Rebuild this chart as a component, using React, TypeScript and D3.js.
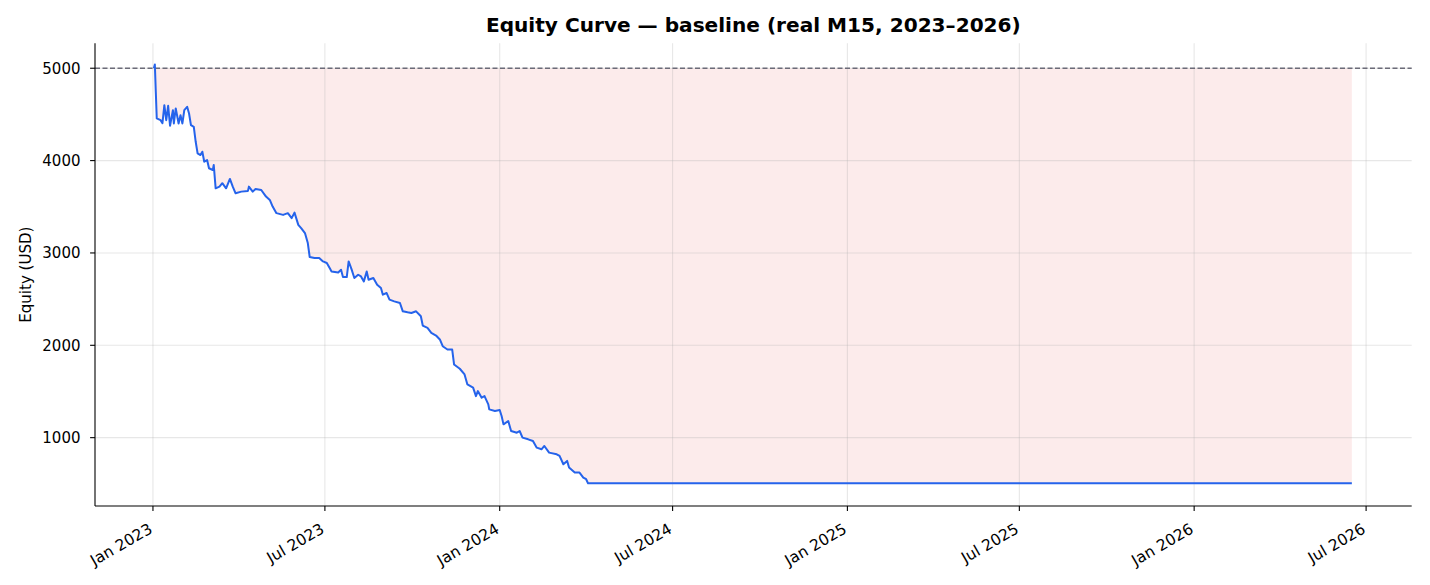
import { useEffect, useRef } from 'react';
import * as d3 from 'd3';

// equity samples (date, USD)
const equityDates = [
  "2023-01-02", "2023-01-03", "2023-01-04", "2023-01-05", "2023-01-09", "2023-01-11", "2023-01-13",
  "2023-01-15", "2023-01-17", "2023-01-19", "2023-01-22", "2023-01-23", "2023-01-25", "2023-01-28",
  "2023-01-30", "2023-02-01", "2023-02-03", "2023-02-06", "2023-02-08", "2023-02-10", "2023-02-13",
  "2023-02-15", "2023-02-17", "2023-02-20", "2023-02-22", "2023-02-24", "2023-02-27", "2023-03-01",
  "2023-03-05", "2023-03-06", "2023-03-08", "2023-03-12", "2023-03-15", "2023-03-19", "2023-03-23",
  "2023-03-26", "2023-03-29", "2023-04-04", "2023-04-11", "2023-04-12", "2023-04-16", "2023-04-19",
  "2023-04-25", "2023-04-30", "2023-05-04", "2023-05-07", "2023-05-11", "2023-05-18", "2023-05-23",
  "2023-05-27", "2023-05-30", "2023-06-03", "2023-06-06", "2023-06-10", "2023-06-13", "2023-06-15",
  "2023-06-20", "2023-06-25", "2023-06-29", "2023-07-03", "2023-07-06", "2023-07-08", "2023-07-15",
  "2023-07-18", "2023-07-20", "2023-07-24", "2023-07-26", "2023-07-29", "2023-08-01", "2023-08-05",
  "2023-08-08", "2023-08-11", "2023-08-14", "2023-08-16", "2023-08-21", "2023-08-25", "2023-08-29",
  "2023-08-31", "2023-09-04", "2023-09-07", "2023-09-12", "2023-09-18", "2023-09-21", "2023-09-26",
  "2023-09-30", "2023-10-05", "2023-10-10", "2023-10-12", "2023-10-17", "2023-10-21", "2023-10-26",
  "2023-10-30", "2023-11-02", "2023-11-07", "2023-11-12", "2023-11-14", "2023-11-20", "2023-11-25",
  "2023-11-28", "2023-12-04", "2023-12-07", "2023-12-09", "2023-12-13", "2023-12-16", "2023-12-20",
  "2023-12-21", "2023-12-27", "2024-01-01", "2024-01-03", "2024-01-05", "2024-01-10", "2024-01-13",
  "2024-01-19", "2024-01-22", "2024-01-25", "2024-01-31", "2024-02-05", "2024-02-09", "2024-02-14",
  "2024-02-17", "2024-02-22", "2024-03-01", "2024-03-04", "2024-03-08", "2024-03-12", "2024-03-14",
  "2024-03-20", "2024-03-25", "2024-03-29", "2024-04-01", "2024-04-03", "2026-06-16",
];
const equityValues = [
  5000, 5040, 4744, 4457, 4438, 4406, 4600,
  4438, 4593, 4377, 4546, 4402, 4565, 4402,
  4492, 4402, 4546, 4582, 4510, 4384, 4366,
  4204, 4079, 4060, 4096, 3988, 4006, 3917,
  3898, 3952, 3700, 3718, 3755, 3700, 3801,
  3718, 3646, 3664, 3672, 3718, 3664, 3693,
  3682, 3610, 3574, 3502, 3431, 3412, 3431,
  3377, 3437, 3304, 3269, 3215, 3107, 2956,
  2945, 2945, 2908, 2891, 2837, 2800, 2789,
  2818, 2739, 2739, 2908, 2825, 2729, 2764,
  2746, 2692, 2800, 2710, 2729, 2656, 2620,
  2548, 2566, 2494, 2476, 2458, 2368, 2357,
  2350, 2368, 2314, 2214, 2189, 2135, 2106,
  2063, 1990, 1954, 1954, 1792, 1746, 1684,
  1576, 1541, 1450, 1504, 1433, 1450, 1360,
  1306, 1288, 1299, 1234, 1144, 1180, 1072,
  1054, 1072, 1000, 982, 964, 892, 874,
  910, 838, 820, 802, 712, 748, 676,
  622, 622, 568, 550, 505, 505,
];

const startingEquity = 5000;
const yTicks = [1000, 2000, 3000, 4000, 5000];
const xTickDates = [
  "2023-01-01", "2023-07-01", "2024-01-01", "2024-07-01",
  "2025-01-01", "2025-07-01", "2026-01-01", "2026-07-01",
];

const FONT = "DejaVu Sans, sans-serif";

export default function App() {
  const svgRef = useRef<SVGSVGElement>(null);

  useEffect(() => {
    document.body.style.margin = "0";
    if (!svgRef.current) return;

    const width = 1430;
    const height = 585;
    const left = 95, right = 1411.7, top = 43.3, bottom = 506;

    const svg = d3.select(svgRef.current);
    svg.selectAll("*").remove();
    svg.attr("width", width).attr("height", height).attr("viewBox", `0 0 ${width} ${height}`);

    const parse = d3.utcParse("%Y-%m-%d");
    const data = equityDates.map((d, i) => ({ date: parse(d) as Date, value: equityValues[i] }));

    const x = d3.scaleUtc()
      .domain([parse("2022-11-01") as Date, parse("2026-08-18") as Date])
      .range([left, right]);
    const y = d3.scaleLinear().domain([260, 5270]).range([bottom, top]);

    svg.append("rect").attr("width", width).attr("height", height).attr("fill", "#ffffff");

    // drawdown fill between equity and starting balance
    const area = d3.area<any>()
      .x(d => x(d.date))
      .y0(() => y(startingEquity))
      .y1(d => y(Math.min(d.value, startingEquity)));
    svg.append("path")
      .datum(data)
      .attr("d", area as any)
      .attr("fill", "#dc2626")
      .attr("fill-opacity", 0.09);

    // grid
    const grid = svg.append("g");
    grid.selectAll("line.gy").data(yTicks).enter().append("line")
      .attr("x1", left).attr("x2", right)
      .attr("y1", d => y(d)).attr("y2", d => y(d))
      .attr("stroke", "#b0b0b0").attr("stroke-opacity", 0.3).attr("stroke-width", 1.1);
    grid.selectAll("line.gx").data(xTickDates).enter().append("line")
      .attr("x1", d => x(parse(d) as Date)).attr("x2", d => x(parse(d) as Date))
      .attr("y1", top).attr("y2", bottom)
      .attr("stroke", "#b0b0b0").attr("stroke-opacity", 0.3).attr("stroke-width", 1.1);

    // starting balance reference
    svg.append("line")
      .attr("x1", left).attr("x2", right)
      .attr("y1", y(startingEquity)).attr("y2", y(startingEquity))
      .attr("stroke", "#6b6b78").attr("stroke-width", 1.3)
      .attr("stroke-dasharray", "5,2.5");

    // equity line
    const line = d3.line<any>().x(d => x(d.date)).y(d => y(d.value));
    svg.append("path")
      .datum(data)
      .attr("d", line as any)
      .attr("fill", "none")
      .attr("stroke", "#2563eb")
      .attr("stroke-width", 2)
      .attr("stroke-linejoin", "round");

    // spines
    svg.append("line").attr("x1", left).attr("x2", left).attr("y1", top).attr("y2", bottom)
      .attr("stroke", "#000").attr("stroke-width", 1.1);
    svg.append("line").attr("x1", left).attr("x2", right).attr("y1", bottom).attr("y2", bottom)
      .attr("stroke", "#000").attr("stroke-width", 1.1);

    // y ticks
    const yt = svg.append("g").selectAll("g").data(yTicks).enter().append("g")
      .attr("transform", d => `translate(${left},${y(d)})`);
    yt.append("line").attr("x1", -4.9).attr("x2", 0).attr("stroke", "#000").attr("stroke-width", 1.1);
    yt.append("text")
      .attr("x", -14.5).attr("dy", "0.36em")
      .attr("text-anchor", "end")
      .style("font-family", FONT).style("font-size", "15px").attr("fill", "#000")
      .text(d => String(d));

    // x ticks
    const fmt = d3.utcFormat("%b %Y");
    const xt = svg.append("g").selectAll("g").data(xTickDates).enter().append("g")
      .attr("transform", d => `translate(${x(parse(d) as Date)},${bottom})`);
    xt.append("line").attr("y1", 0).attr("y2", 4.9).attr("stroke", "#000").attr("stroke-width", 1.1);
    xt.append("text")
      .attr("transform", "translate(0.5,26) rotate(-30)")
      .attr("text-anchor", "end")
      .style("font-family", FONT).style("font-size", "15.5px").attr("fill", "#000")
      .text(d => fmt(parse(d) as Date));

    // labels
    svg.append("text")
      .attr("transform", `translate(31,${(top + bottom) / 2}) rotate(-90)`)
      .attr("text-anchor", "middle")
      .style("font-family", FONT).style("font-size", "15px").attr("fill", "#000")
      .text("Equity (USD)");

    svg.append("text")
      .attr("x", (left + right) / 2).attr("y", 31.7)
      .attr("text-anchor", "middle")
      .style("font-family", FONT).style("font-size", "20.1px").style("font-weight", "bold").attr("fill", "#000")
      .text("Equity Curve — baseline (real M15, 2023–2026)");
  }, []);

  return (
    <div style={{ width: 1430, height: 585 }}>
      <svg ref={svgRef} style={{ display: "block" }} />
    </div>
  );
}
